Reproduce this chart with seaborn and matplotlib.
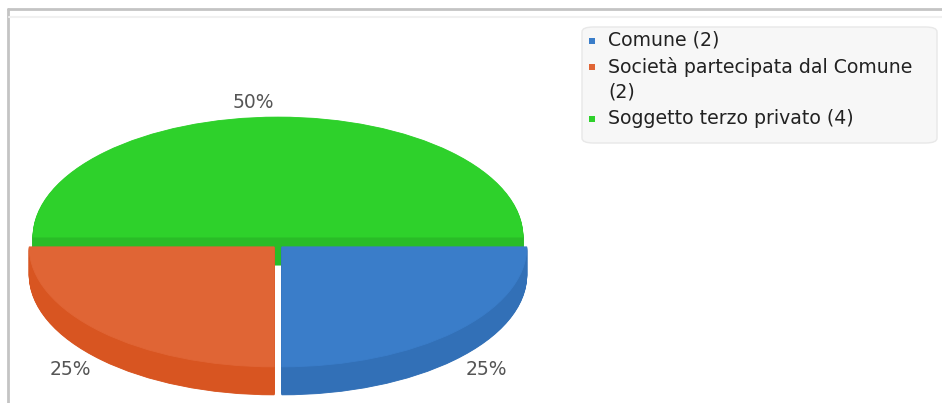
import numpy as np
import matplotlib
matplotlib.use("Agg")
import matplotlib.pyplot as plt
from matplotlib.patches import FancyBboxPatch, Rectangle
from matplotlib.lines import Line2D
import colorsys
import seaborn as sns

# Data
categories = ["Comune", "Società partecipata dal Comune", "Soggetto terzo privato"]
counts = [2, 2, 4]
legend_labels = ["Comune (2)", "Società partecipata dal Comune\n(2)", "Soggetto terzo privato (4)"]
colors = ["#3a7dc9", "#e06535", "#2ed12b"]
explode = [0.022, 0.022, 0.066]

sns.set_theme(style="white")
plt.rcParams["font.family"] = ["DejaVu Sans"]

W, H, DPI = 942, 403, 100
fig = plt.figure(figsize=(W / DPI, H / DPI), dpi=DPI)
fig.patch.set_facecolor("white")

# Pie geometry in pixels (centre, radii, extrusion depth)
cx, cy = 278.0, 245.0
rx, ry = 245.0, 120.0
depth_px = 28.0

ax = fig.add_axes([0, 0, 1, 1])


def darker(c, f=0.9):
    h, l, s = colorsys.rgb_to_hls(*matplotlib.colors.to_rgb(c))
    return sns.set_hls_values(c, l=l * f)


side_colors = [darker(c) for c in colors]

depth = depth_px / ry
n_layers = 40
start = 0  # Comune starts at three o'clock and runs clockwise
for k in range(n_layers, 0, -1):
    off = -depth * k / n_layers
    wedges, _ = ax.pie(counts, colors=side_colors, startangle=start, counterclock=False,
                       explode=explode, center=(0, off), radius=1.0,
                       wedgeprops=dict(linewidth=0.6), frame=True)
    for w, c in zip(wedges, side_colors):
        w.set_edgecolor(c)
wedges, _ = ax.pie(counts, colors=colors, startangle=start, counterclock=False,
                   explode=explode, center=(0, 0), radius=1.0,
                   wedgeprops=dict(linewidth=0.6), frame=True)
for w, c in zip(wedges, colors):
    w.set_edgecolor(c)
ax.set_aspect("auto")
ax.set_xlim(-cx / rx, (W - cx) / rx)
ax.set_ylim(-(H - cy) / ry, cy / ry)
ax.set_axis_off()

# Percentage labels
total = sum(counts)
ang = start
for v, ex in zip(counts, explode):
    span = 360.0 * v / total
    mid = np.deg2rad(ang - span / 2)
    ang -= span
    s = np.sin(mid)
    lx = 1.2 * np.cos(mid) - (0.1 if s > 0.5 else 0.0)
    ly = 1.12 * s + ex * s
    if s < 0:
        ly -= depth
    ax.text(lx, ly, f"{100 * v / total:.0f}%", ha="center", va="center",
            fontsize=13.5, color="#555555")

# Outer frame lines
fig.add_artist(Line2D([8 / W, 1], [1 - 8.5 / H, 1 - 8.5 / H], color="#c4c4c4", lw=2))
fig.add_artist(Line2D([8 / W, 8 / W], [0, 1 - 8.5 / H], color="#c4c4c4", lw=2))
fig.add_artist(Line2D([9 / W, 1], [1 - 16.5 / H, 1 - 16.5 / H], color="#f0f0f0", lw=1.5))

# Legend box
bx0, by0, bx1, by1 = 582, 27, 937, 143
fig.add_artist(FancyBboxPatch((bx0 / W, 1 - by1 / H), (bx1 - bx0) / W, (by1 - by0) / H,
                              boxstyle="round,pad=0,rounding_size=0.012",
                              facecolor="#f7f7f7", edgecolor="#e8e8e8", lw=1,
                              transform=fig.transFigure))
row_y = [41, 67, 119]
for lab, c, y in zip(legend_labels, colors, row_y):
    fig.add_artist(Rectangle((589 / W, 1 - (y + 3) / H), 6 / W, 6 / H,
                             facecolor=c, edgecolor="none", transform=fig.transFigure))
    fig.text(608 / W, 1 - (y - 10) / H, lab, ha="left", va="top", fontsize=13.6,
             color="#222222", linespacing=1.4)

fig.savefig("out.png", dpi=DPI, facecolor="white")
